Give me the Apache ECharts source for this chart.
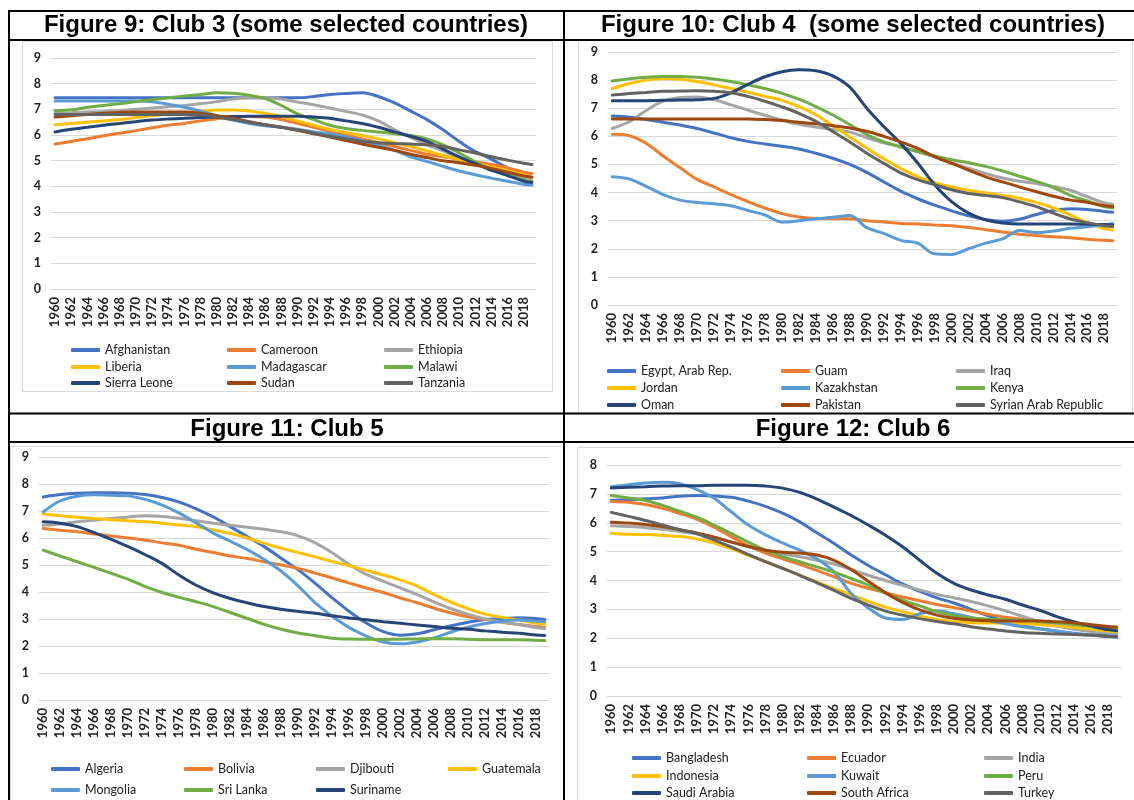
<!DOCTYPE html>
<html><head><meta charset="utf-8">
<script src="https://cdn.jsdelivr.net/npm/echarts@6/dist/echarts.min.js"></script>
<style>html,body{margin:0;padding:0;background:#fff}#c{width:1134px;height:800px}</style>
</head><body><div id="c"></div>
<script>
// ---------- DATA ----------
const years = [];
for (let y = 1960; y <= 2019; y++) years.push(String(y));
const sampleYears = [1960,1962,1964,1966,1968,1970,1972,1974,1976,1978,1980,1982,1984,1986,1988,1990,1992,1994,1996,1998,2000,2002,2004,2006,2008,2010,2012,2014,2016,2018,2019];

const titles = ["Figure 9: Club 3 (some selected countries)", "Figure 10: Club 4  (some selected countries)", "Figure 11: Club 5", "Figure 12: Club 6"];

const fig9Names = ["Afghanistan","Cameroon","Ethiopia","Liberia","Madagascar","Malawi","Sierra Leone","Sudan","Tanzania"];
const fig9Values = [
 [7.45,7.45,7.45,7.45,7.45,7.45,7.45,7.45,7.45,7.45,7.45,7.45,7.45,7.45,7.45,7.45,7.5,7.58,7.62,7.65,7.5,7.25,6.93,6.6,6.2,5.75,5.35,5.05,4.72,4.45,4.35],
 [5.65,5.75,5.85,5.97,6.07,6.17,6.28,6.38,6.45,6.55,6.63,6.7,6.72,6.7,6.6,6.45,6.3,6.15,6.0,5.85,5.7,5.55,5.4,5.25,5.15,5.05,4.95,4.85,4.72,4.55,4.5],
 [6.85,6.87,6.9,6.92,6.95,7.0,7.05,7.1,7.15,7.22,7.3,7.4,7.45,7.45,7.4,7.28,7.18,7.05,6.92,6.78,6.55,6.2,5.9,5.62,5.38,5.12,4.88,4.65,4.45,4.28,4.2],
 [6.4,6.45,6.5,6.55,6.6,6.68,6.75,6.82,6.88,6.93,6.97,6.97,6.93,6.85,6.72,6.55,6.38,6.22,6.1,5.98,5.85,5.7,5.55,5.38,5.2,5.05,4.9,4.75,4.6,4.45,4.35],
 [7.32,7.32,7.32,7.32,7.32,7.32,7.3,7.2,7.08,6.93,6.75,6.58,6.45,6.36,6.3,6.22,6.12,6.05,5.92,5.78,5.6,5.4,5.15,4.97,4.78,4.6,4.45,4.32,4.2,4.08,4.05],
 [6.95,6.98,7.08,7.15,7.22,7.3,7.38,7.45,7.52,7.58,7.65,7.63,7.55,7.42,7.15,6.82,6.6,6.38,6.25,6.18,6.12,6.05,5.98,5.85,5.62,5.3,4.95,4.65,4.45,4.25,4.2],
 [6.12,6.22,6.3,6.38,6.45,6.52,6.58,6.62,6.65,6.68,6.7,6.72,6.73,6.73,6.73,6.73,6.7,6.65,6.55,6.45,6.3,6.12,5.95,5.75,5.45,5.15,4.88,4.62,4.42,4.2,4.15],
 [6.7,6.75,6.8,6.85,6.88,6.9,6.9,6.9,6.9,6.85,6.75,6.65,6.52,6.4,6.3,6.18,6.05,5.92,5.78,5.65,5.52,5.4,5.25,5.12,5.0,4.92,4.82,4.7,4.55,4.4,4.35],
 [6.8,6.8,6.8,6.8,6.8,6.8,6.8,6.8,6.8,6.78,6.7,6.6,6.5,6.4,6.3,6.2,6.07,5.95,5.85,5.75,5.7,5.67,5.65,5.62,5.55,5.42,5.3,5.15,5.02,4.9,4.85]
];

const fig10Names = ["Egypt, Arab Rep.","Guam","Iraq","Jordan","Kazakhstan","Kenya","Oman","Pakistan","Syrian Arab Republic"];
const fig10Values = [
 [6.72,6.68,6.6,6.5,6.4,6.28,6.12,5.95,5.82,5.73,5.65,5.55,5.4,5.22,5.0,4.72,4.38,4.05,3.78,3.55,3.35,3.17,3.04,2.98,3.05,3.22,3.36,3.42,3.4,3.33,3.3],
 [6.07,6.02,5.75,5.3,4.88,4.47,4.2,3.93,3.68,3.45,3.25,3.13,3.08,3.08,3.07,3.0,2.95,2.9,2.88,2.85,2.82,2.76,2.68,2.6,2.52,2.47,2.43,2.39,2.34,2.3,2.29],
 [6.28,6.52,6.92,7.25,7.38,7.4,7.3,7.12,6.93,6.75,6.58,6.43,6.33,6.24,6.15,5.95,5.77,5.63,5.45,5.27,5.05,4.87,4.68,4.52,4.4,4.32,4.22,4.08,3.85,3.63,3.58],
 [7.7,7.88,8.0,8.06,8.03,7.95,7.83,7.7,7.57,7.42,7.28,7.06,6.77,6.38,5.98,5.58,5.2,4.86,4.57,4.35,4.2,4.08,3.99,3.9,3.8,3.65,3.45,3.2,2.93,2.72,2.67],
 [4.56,4.48,4.22,3.93,3.73,3.65,3.6,3.53,3.36,3.2,2.95,3.0,3.07,3.12,3.18,2.75,2.55,2.3,2.2,1.82,1.8,2.0,2.2,2.35,2.65,2.58,2.63,2.73,2.78,2.85,2.9],
 [7.97,8.05,8.1,8.13,8.13,8.1,8.04,7.95,7.83,7.7,7.53,7.32,7.06,6.76,6.42,6.06,5.8,5.62,5.46,5.3,5.17,5.06,4.93,4.77,4.58,4.4,4.18,3.9,3.7,3.5,3.45],
 [7.27,7.27,7.27,7.28,7.29,7.3,7.35,7.55,7.85,8.12,8.3,8.37,8.33,8.15,7.75,7.0,6.35,5.75,5.05,4.28,3.68,3.27,3.03,2.92,2.88,2.88,2.88,2.88,2.87,2.86,2.85],
 [6.62,6.62,6.62,6.62,6.62,6.62,6.62,6.62,6.62,6.6,6.56,6.5,6.45,6.38,6.3,6.18,6.0,5.8,5.57,5.28,5.04,4.8,4.56,4.38,4.2,4.03,3.87,3.73,3.65,3.53,3.5],
 [7.47,7.52,7.56,7.6,7.61,7.62,7.6,7.55,7.42,7.25,7.05,6.82,6.53,6.17,5.8,5.4,5.04,4.7,4.46,4.28,4.1,3.97,3.9,3.82,3.67,3.5,3.27,3.06,2.93,2.82,2.79]
];

const fig11Names = ["Algeria","Bolivia","Djibouti","Guatemala","Mongolia","Sri Lanka","Suriname"];
const fig11Values = [
 [7.52,7.61,7.66,7.68,7.68,7.66,7.61,7.5,7.33,7.08,6.78,6.42,6.05,5.68,5.25,4.82,4.32,3.78,3.28,2.85,2.53,2.4,2.45,2.6,2.75,2.88,2.98,3.02,3.05,3.02,2.98],
 [6.35,6.29,6.23,6.15,6.07,6.0,5.92,5.82,5.73,5.58,5.46,5.33,5.24,5.12,5.0,4.87,4.7,4.52,4.33,4.15,3.98,3.78,3.6,3.4,3.22,3.08,2.98,2.88,2.8,2.72,2.69],
 [6.47,6.52,6.6,6.66,6.72,6.78,6.82,6.8,6.73,6.64,6.55,6.47,6.4,6.32,6.23,6.08,5.82,5.45,5.02,4.65,4.4,4.15,3.9,3.63,3.38,3.17,3.0,2.88,2.79,2.68,2.65],
 [6.9,6.82,6.77,6.72,6.68,6.64,6.6,6.55,6.48,6.42,6.3,6.17,6.0,5.8,5.62,5.46,5.3,5.13,4.97,4.8,4.63,4.45,4.22,3.9,3.62,3.38,3.18,3.06,2.96,2.85,2.81],
 [6.97,7.38,7.55,7.6,7.58,7.56,7.43,7.22,6.92,6.56,6.18,5.88,5.57,5.2,4.77,4.22,3.6,3.1,2.68,2.37,2.15,2.08,2.15,2.3,2.52,2.7,2.83,2.92,2.96,2.92,2.9],
 [5.55,5.33,5.12,4.91,4.69,4.47,4.2,3.98,3.8,3.64,3.46,3.24,3.02,2.8,2.62,2.48,2.38,2.29,2.26,2.25,2.24,2.25,2.26,2.27,2.27,2.25,2.23,2.23,2.23,2.21,2.2],
 [6.6,6.55,6.42,6.2,5.95,5.68,5.38,5.05,4.62,4.25,3.97,3.76,3.6,3.46,3.36,3.28,3.21,3.12,3.04,2.97,2.9,2.84,2.78,2.72,2.66,2.62,2.56,2.51,2.47,2.41,2.39]
];

const fig12Names = ["Bangladesh","Ecuador","India","Indonesia","Kuwait","Peru","Saudi Arabia","South Africa","Turkey"];
const fig12Values = [
 [6.78,6.8,6.83,6.86,6.92,6.94,6.93,6.88,6.75,6.57,6.33,6.03,5.65,5.28,4.88,4.52,4.2,3.88,3.62,3.4,3.22,3.0,2.78,2.58,2.43,2.33,2.24,2.16,2.1,2.06,2.04],
 [6.74,6.71,6.63,6.5,6.32,6.12,5.85,5.52,5.2,4.95,4.75,4.56,4.35,4.13,3.9,3.73,3.58,3.43,3.3,3.17,3.06,2.94,2.83,2.73,2.66,2.6,2.54,2.48,2.43,2.37,2.34],
 [5.9,5.87,5.83,5.77,5.7,5.62,5.5,5.34,5.17,5.04,4.92,4.82,4.7,4.57,4.38,4.18,4.0,3.83,3.67,3.52,3.4,3.27,3.12,2.95,2.76,2.58,2.43,2.31,2.23,2.16,2.14],
 [5.64,5.6,5.59,5.56,5.52,5.44,5.3,5.1,4.87,4.65,4.42,4.18,3.95,3.72,3.5,3.28,3.08,2.92,2.77,2.65,2.58,2.54,2.53,2.52,2.51,2.48,2.42,2.37,2.31,2.25,2.22],
 [7.25,7.32,7.38,7.4,7.35,7.15,6.85,6.38,5.92,5.58,5.3,5.05,4.75,4.3,3.55,3.05,2.7,2.65,2.85,2.95,2.85,2.72,2.62,2.5,2.4,2.32,2.25,2.17,2.12,2.09,2.08],
 [6.94,6.86,6.77,6.6,6.4,6.19,5.92,5.63,5.33,5.05,4.82,4.65,4.47,4.29,4.07,3.84,3.56,3.32,3.12,2.92,2.78,2.7,2.66,2.64,2.62,2.58,2.53,2.47,2.41,2.3,2.27],
 [7.2,7.23,7.25,7.27,7.28,7.28,7.3,7.3,7.3,7.27,7.2,7.05,6.82,6.54,6.25,5.92,5.57,5.17,4.7,4.25,3.9,3.67,3.5,3.35,3.15,2.97,2.75,2.57,2.43,2.3,2.26],
 [6.02,5.99,5.94,5.86,5.76,5.65,5.5,5.33,5.18,5.05,4.98,4.95,4.88,4.7,4.38,3.97,3.58,3.24,2.98,2.8,2.69,2.63,2.61,2.6,2.6,2.6,2.57,2.53,2.47,2.41,2.39],
 [6.36,6.22,6.08,5.92,5.76,5.62,5.4,5.16,4.9,4.65,4.42,4.18,3.92,3.66,3.38,3.15,2.94,2.8,2.68,2.58,2.5,2.4,2.32,2.25,2.2,2.17,2.15,2.13,2.11,2.07,2.05]
];

// ---------- STYLE / LAYOUT ----------
const palette = ['#4472C4','#ED7D31','#A5A5A5','#FFC000','#5B9BD5','#70AD47','#264478','#9E480E','#636363'];
const panels = [
  { names: fig9Names,  values: fig9Values,  max: 9, grid: {left: 51,  top: 58,  width: 485, height: 231},
    legCols: [71, 227, 384], legRows: [350, 367, 383], title: [286, 25] },
  { names: fig10Names, values: fig10Values, max: 9, grid: {left: 608, top: 52,  width: 509, height: 253},
    legCols: [607, 781, 956], legRows: [371, 388, 405], title: [853, 25] },
  { names: fig11Names, values: fig11Values, max: 9, grid: {left: 39,  top: 457, width: 510, height: 243},
    legCols: [51, 184, 316, 448], legRows: [769, 790], title: [287, 429] },
  { names: fig12Names, values: fig12Values, max: 8, grid: {left: 607, top: 465, width: 514, height: 231},
    legCols: [632, 807, 984], legRows: [758, 776, 793], title: [853, 429] }
];

const labelFont = 'Lato';
const grids = [], xAxes = [], yAxes = [], series = [], legends = [];
const graphics = [];

// chart boxes
[[22,41,530,350],[578,40,554,373],[10,446,553,360],[577,447,557,360]].forEach(b => {
  graphics.push({type:'rect', shape:{x:b[0]+0.5,y:b[1]+0.5,width:b[2],height:b[3]}, style:{fill:'#fff', stroke:'#d9d9d9', lineWidth:1}, z:-10});
});
// table borders
const blk = {stroke:'#000', lineWidth:2};
[[8,11,1134,11],[8,40,1134,40],[8,413.5,1134,413.5],[8,442,1134,442],[9,11,9,800],[564,11,564,800]].forEach(l => {
  graphics.push({type:'line', shape:{x1:l[0],y1:l[1],x2:l[2],y2:l[3]}, style:blk, z:10});
});

panels.forEach((p, pi) => {
  grids.push(Object.assign({containLabel:false}, p.grid));
  xAxes.push({
    type:'category', gridIndex: pi, data: years, boundaryGap: true,
    axisLine:{show:true, lineStyle:{color:'#d9d9d9', width:1}},
    axisTick:{show:false},
    axisLabel:{interval:1, rotate:90, margin:8, fontFamily:labelFont, fontWeight:'bold', fontSize:13, color:'#222'}
  });
  yAxes.push({
    type:'value', gridIndex: pi, min:0, max:p.max, interval:1,
    axisLine:{show:false}, axisTick:{show:false},
    splitLine:{lineStyle:{color:'#d9d9d9', width:1}},
    axisLabel:{margin:10, fontFamily:labelFont, fontWeight:'bold', fontSize:12.5, color:'#222'}
  });
  p.names.forEach((name, si) => {
    series.push({
      type:'line', name: name, xAxisIndex: pi, yAxisIndex: pi,
      data: p.values[si].map((v, k) => [sampleYears[k] - 1960, v]),
      smooth: 0.35, symbol:'none', showSymbol:false,
      lineStyle:{width:3, color: palette[si], cap:'round'},
      itemStyle:{color: palette[si]},
      emphasis:{disabled:true}
    });
    const nc = p.legCols.length;
    legends.push({
      data:[name], left: p.legCols[si % nc], top: p.legRows[Math.floor(si / nc)] - 8,
      padding:0, icon:'roundRect', itemWidth:29, itemHeight:4, selectedMode:false,
      textStyle:{fontFamily:labelFont, fontSize:12.5, color:'#222', lineHeight:16}
    });
  });
  graphics.push({type:'text', x:p.title[0], y:p.title[1], style:{text:titles[pi], font:'bold 24px "Liberation Sans", Arial, sans-serif', fill:'#000', textAlign:'center', textVerticalAlign:'middle'}, z:20});
});

const chart = echarts.init(document.getElementById('c'), null, {renderer:'canvas'});
chart.setOption({
  animation:false,
  backgroundColor:'#fff',
  grid: grids, xAxis: xAxes, yAxis: yAxes, series: series, legend: legends,
  graphic: graphics
});
</script></body></html>
